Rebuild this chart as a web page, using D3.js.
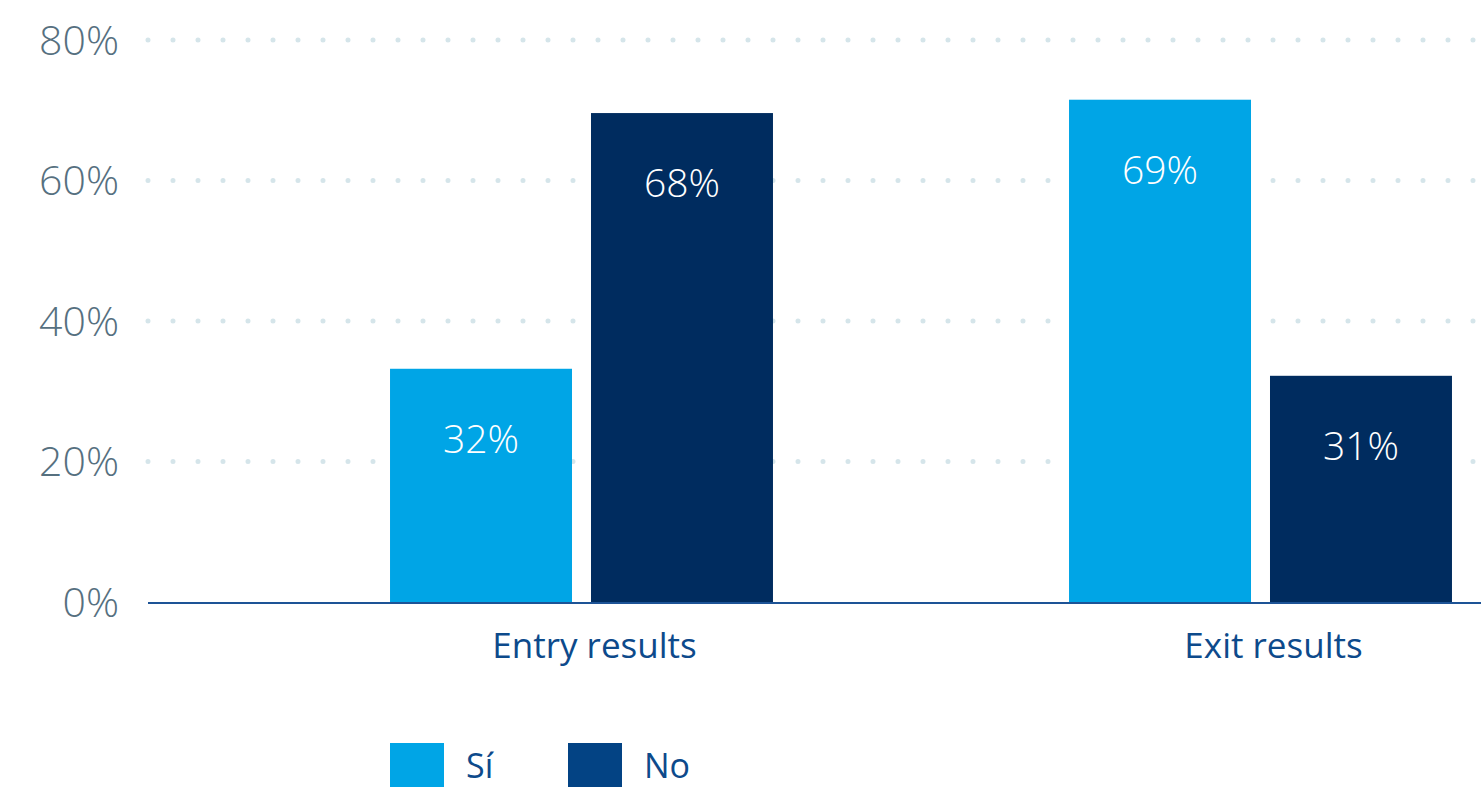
<!DOCTYPE html>
<html>
<head>
<meta charset="utf-8">
<script src="https://cdn.jsdelivr.net/npm/d3@7/dist/d3.min.js"></script>
<style>
  body { margin: 0; background: #fff; }
  text { font-family: "Open Sans", Lato, sans-serif; }
</style>
</head>
<body>
<div id="chart"></div>
<script>
// Data
const categories = ["Entry results", "Exit results"]
const series = ["Sí", "No"]
const siValues = [33.2, 71.5]
const noValues = [69.6, 32.2]
const siLabels = ["32%", "69%"]
const noLabels = ["68%", "31%"]
const yTicks = [0, 20, 40, 60, 80]

function drawBarChart() {
  // Dimensions
    const dimensions = {
        width: 1481,
        height: 787,
    }
    const plotLeft = 148
    const plotRight = 1481

    const svg = d3.select("#chart")
        .append("svg")
            .attr("width", dimensions.width)
            .attr("height", dimensions.height)

  // Scales
    const yScale = d3.scaleLinear()
        .domain([0, 80])
        .range([602, 40])

    const x0 = d3.scaleBand()
        .domain(categories)
        .range([242, 1600])
        .paddingInner(0.436)
        .paddingOuter(0.218)

    const x1 = d3.scaleBand()
        .domain(series)
        .range([0, x0.bandwidth()])
        .paddingInner(0.0945)

    const barColor = d3.scaleOrdinal()
        .domain(series)
        .range(["#00a5e6", "#002c5f"])
    const legendColor = d3.scaleOrdinal()
        .domain(series)
        .range(["#00a5e6", "#034384"])

  // Dotted gridlines
    const grid = svg.append("g")
    grid.selectAll("line")
        .data(yTicks.filter(d => d > 0))
        .enter()
        .append("line")
            .attr("x1", plotLeft)
            .attr("x2", plotRight)
            .attr("y1", d => yScale(d))
            .attr("y2", d => yScale(d))
            .attr("stroke", "#d5e5ea")
            .attr("stroke-width", 5)
            .attr("stroke-linecap", "round")
            .attr("stroke-dasharray", "0 25")

  // Y tick labels
    svg.append("g")
        .selectAll("text")
        .data(yTicks)
        .enter()
        .append("text")
            .attr("x", 119)
            .attr("y", d => yScale(d))
            .attr("dy", "0.36em")
            .attr("text-anchor", "end")
            .attr("fill", "#56707f")
            .attr("font-weight", 350)
            .style("font-size", "41px")
            .text(d => d + "%")

  // Bars
    const rows = categories.map((c, i) => ({
        category: c,
        items: [
            { key: "Sí", value: siValues[i], label: siLabels[i] },
            { key: "No", value: noValues[i], label: noLabels[i] },
        ],
    }))

    const groups = svg.selectAll(".group")
        .data(rows)
        .enter()
        .append("g")
            .attr("class", "group")
            .attr("transform", d => `translate(${x0(d.category)},0)`)

    groups.selectAll("rect")
        .data(d => d.items)
        .enter()
        .append("rect")
            .attr("x", d => x1(d.key))
            .attr("width", x1.bandwidth())
            .attr("y", d => yScale(d.value))
            .attr("height", d => yScale(0) - yScale(d.value))
            .attr("fill", d => barColor(d.key))

    groups.selectAll(".value")
        .data(d => d.items)
        .enter()
        .append("text")
            .attr("class", "value")
            .attr("x", d => x1(d.key) + x1.bandwidth() / 2)
            .attr("y", d => yScale(d.value) + 84)
            .attr("text-anchor", "middle")
            .attr("fill", "#ffffff")
            .attr("font-weight", 350)
            .style("font-size", "39px")
            .text(d => d.label)

  // Baseline
    svg.append("line")
        .attr("x1", plotLeft)
        .attr("x2", plotRight)
        .attr("y1", yScale(0) + 1)
        .attr("y2", yScale(0) + 1)
        .attr("stroke", "#1d5396")
        .attr("stroke-width", 2)

  // Category labels
    svg.append("g")
        .selectAll("text")
        .data(categories)
        .enter()
        .append("text")
            .attr("x", d => x0(d) + x0.bandwidth() / 2 + 13)
            .attr("y", 658)
            .attr("text-anchor", "middle")
            .attr("fill", "#0d4a8b")
            .style("font-size", "35px")
            .text(d => d)

  // Legend
    const legend = svg.append("g")
        .selectAll("g")
        .data(series)
        .enter()
        .append("g")
            .attr("transform", (d, i) => `translate(${390 + i * 178},743)`)
    legend.append("rect")
        .attr("width", 54)
        .attr("height", 44)
        .attr("fill", d => legendColor(d))
    legend.append("text")
        .attr("x", 76)
        .attr("y", 35)
        .attr("fill", "#0d4a8b")
        .style("font-size", "34px")
        .text(d => d)
}

drawBarChart()
</script>
</body>
</html>
